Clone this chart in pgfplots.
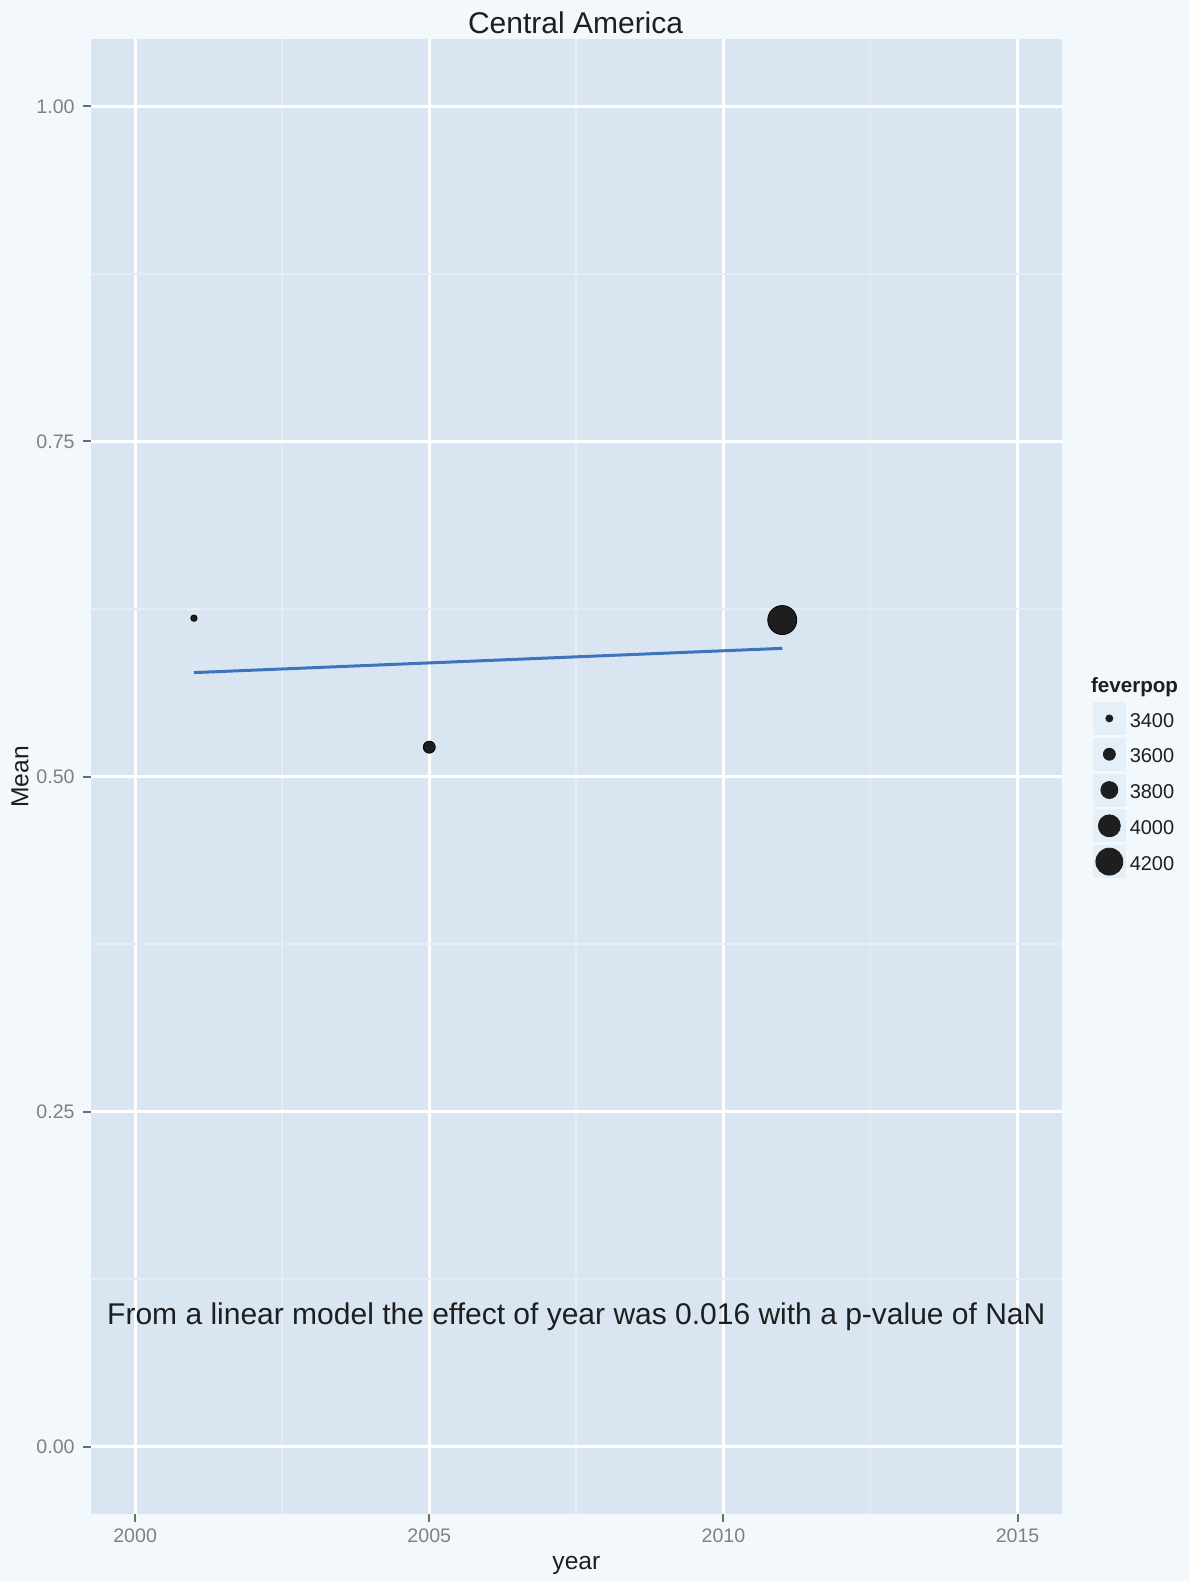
\documentclass[border=0pt]{standalone}
\usepackage{fontspec}
\setmainfont{Liberation Sans}
\usepackage{pgfplots}
\pgfplotsset{compat=1.18}
\definecolor{outerbg}{HTML}{F3F8FC}
\definecolor{panelbg}{HTML}{D9E6F2}
\definecolor{minorgrid}{HTML}{E4EDF7}
\definecolor{ticklab}{HTML}{808080}
\definecolor{tickcol}{HTML}{6E6E6E}
\definecolor{fitblue}{HTML}{3C74BE}
\definecolor{keybg}{HTML}{E5EFF8}
\definecolor{txt}{HTML}{1E1E1E}
\pgfplotsset{sizekey/.style={legend image code/.code={\fill[keybg] (0pt,-7.1pt) rectangle (16pt,8.9pt); \fill[txt] (8pt,0.9pt) circle[radius=#1];}}}
\begin{document}
\begin{tikzpicture}
\useasboundingbox (0,0) rectangle (594.5pt,790.5pt);
\fill[outerbg] (0,0) rectangle (594.5pt,790.5pt);
\begin{axis}[
  at={(45.5pt,33.5pt)}, anchor=south west,
  scale only axis, width=485.35pt, height=737.35pt,
  xmin=1999.25, xmax=2015.75, ymin=-0.05, ymax=1.05,
  axis background/.style={fill=panelbg},
  axis line style={draw=none},
  xtick={2000,2005,2010,2015}, ytick={0,0.25,0.5,0.75,1},
  minor xtick={2002.5,2007.5,2012.5}, minor ytick={0.125,0.375,0.625,0.875},
  grid=both,
  major grid style={white, line width=1.5pt},
  minor grid style={minorgrid, line width=0.9pt},
  tick pos=left, tick align=outside,
  major tick length=4pt, minor tick length=0pt,
  major tick style={tickcol, line width=1pt},
  minor tick style={draw=none},
  /pgf/number format/assume math mode=true,
  tick label style={font=\fontsize{9.8}{11}\selectfont, text=ticklab, inner sep=0pt},
  xticklabel style={/pgf/number format/1000 sep={}},
  yticklabel style={/pgf/number format/.cd, fixed, fixed zerofill, precision=2},
  xticklabel shift=3pt, yticklabel shift=4pt,
  legend style={at={(1.0322,0.5506)}, anchor=north west, draw=none, fill=none,
    inner sep=0pt, outer sep=0pt, row sep=0pt, column sep=2pt,
    font=\fontsize{10}{12}\selectfont, text=txt,
    nodes={inner sep=0pt, text height=12.2pt, text depth=5.4pt}},
  legend cell align=left,
]
\addplot[forget plot, only marks, mark=*,
  visualization depends on={\thisrow{radius} \as \rad},
  scatter, scatter/use mapped color={draw=none, fill=txt},
  scatter/@pre marker code/.append style={/tikz/mark size=\rad pt}]
  table {
  year mean feverpop radius
  2001 0.6182 3380 1.6
  2005 0.5220 3600 3.0
  2011 0.6168 4400 7.25
  };
\addplot[forget plot, fitblue, line width=1.5pt] coordinates {(2001,0.5776) (2011,0.5957)};
\node[anchor=base, font=\fontsize{15}{18}\selectfont, text=txt] at (axis cs:2007.5,0.0915) {From a linear model the effect of year was 0.016 with a p-value of NaN};
\addlegendimage{sizekey=1.75pt}\addlegendentry{3400}
\addlegendimage{sizekey=3pt}\addlegendentry{3600}
\addlegendimage{sizekey=4.25pt}\addlegendentry{3800}
\addlegendimage{sizekey=5.5pt}\addlegendentry{4000}
\addlegendimage{sizekey=6.75pt}\addlegendentry{4200}
\end{axis}
\node[anchor=base, font=\fontsize{15}{18}\selectfont, text=txt] at (287.8pt,773.85pt) {Central America};
\node[anchor=base, font=\fontsize{12.3}{14}\selectfont, text=txt] at (288.2pt,5.8pt) {year};
\node[anchor=base, rotate=90, font=\fontsize{12.3}{14}\selectfont, text=txt] at (14.2pt,402pt) {Mean};
\node[anchor=base west, font=\bfseries\fontsize{10.3}{12}\selectfont, text=txt] at (542pt,444.15pt) {feverpop};
\end{tikzpicture}
\end{document}
